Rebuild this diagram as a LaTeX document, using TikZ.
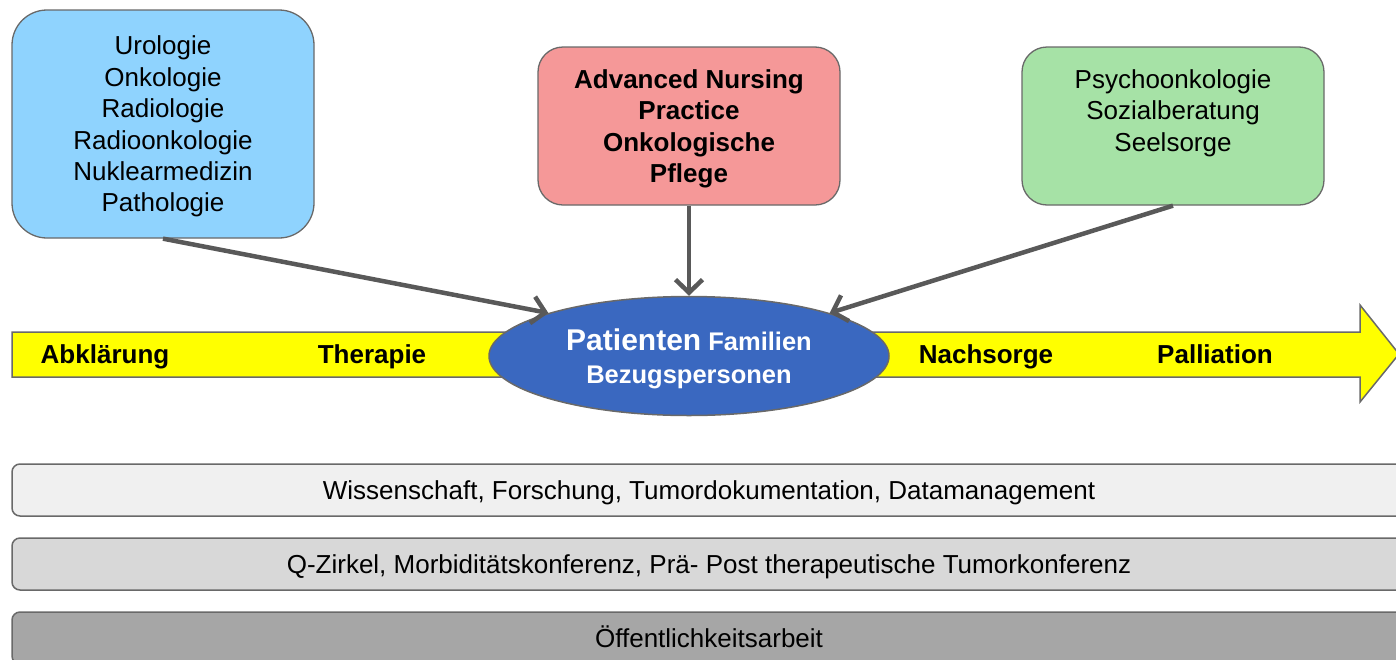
\documentclass[tikz,border=0pt]{standalone}
\usepackage{fontspec}
\setmainfont{Liberation Sans}
\usetikzlibrary{arrows.meta,shapes.geometric}
\definecolor{boxblue}{RGB}{143,211,254}
\definecolor{boxred}{RGB}{245,152,152}
\definecolor{boxgreen}{RGB}{166,226,166}
\definecolor{ellblue}{RGB}{58,104,192}
\definecolor{linegray}{RGB}{89,89,89}
\definecolor{edgegray}{RGB}{105,105,105}
\definecolor{barone}{RGB}{240,240,240}
\definecolor{bartwo}{RGB}{216,216,216}
\definecolor{barthree}{RGB}{166,166,166}
\definecolor{arrowyellow}{RGB}{255,255,0}
\begin{document}
\begin{tikzpicture}[x=1pt,y=-1pt,
  topbox/.style={draw=edgegray, line width=1.3pt, rounded corners=25pt,
    minimum width=302pt, minimum height=158pt, inner sep=0pt, align=center,
    text depth=0pt, font=\fontsize{26}{31.4}\selectfont},
  barbox/.style={draw=edgegray, line width=1.5pt, rounded corners=8pt,
    minimum width=1394pt, minimum height=52pt, inner sep=0pt,
    text height=20pt, text depth=2pt, font=\fontsize{26}{30}\selectfont},
  phase/.style={font=\fontsize{26}{30}\bfseries\selectfont, inner sep=0pt, anchor=base},
  conn/.style={draw=linegray, line width=4.5pt,
    -{Straight Barb[length=13pt,width=27pt,line width=4.5pt]}}
]
\useasboundingbox (0,0) rectangle (1396,659);

% top boxes
\node[topbox, fill=boxblue, rounded corners=35pt, minimum height=228pt] (blue) at (163,124)
  {Urologie\\Onkologie\\Radiologie\\Radioonkologie\\Nuklearmedizin\\Pathologie};
\node[topbox, fill=boxred, font=\fontsize{26}{31.4}\bfseries\selectfont] (red) at (689,126)
  {Advanced Nursing\\Practice\\Onkologische\\Pflege};
\node[topbox, fill=boxgreen] (green) at (1173,126)
  {Psychoonkologie\\Sozialberatung\\Seelsorge\\\mbox{}};

% yellow timeline arrow
\draw[draw=edgegray, line width=1.5pt, fill=arrowyellow]
  (12,332) -- (1360,332) -- (1360,305) -- (1399,354) -- (1360,402)
  -- (1360,377) -- (12,377) -- cycle;
\node[phase] (abkl) at (105,363) {Abklärung};
\node[phase] (ther) at (372,363) {Therapie};
\node[phase] (nach) at (986,363) {Nachsorge};
\node[phase] (pall) at (1215,363) {Palliation};

% central ellipse
\node[ellipse, draw=edgegray, line width=1.5pt, fill=ellblue, text=white,
  minimum width=400pt, minimum height=119pt, inner sep=0pt, align=center,
  text depth=0pt, font=\fontsize{25.5}{33}\bfseries\selectfont] (ell) at (689,356)
  {{\fontsize{30}{33}\selectfont Patienten} Familien\\Bezugspersonen};

% connectors
\draw[conn] (blue.south) -- (ell.163);
\draw[conn] (red.south) -- (ell.north);
\draw[conn] (green.south) -- (ell.17);

% bottom bars
\node[barbox, fill=barone] (wiss) at (709,490)
  {Wissenschaft, Forschung, Tumordokumentation, Datamanagement};
\node[barbox, fill=bartwo] (qz) at (709,564)
  {Q-Zirkel, Morbiditätskonferenz, Prä- Post therapeutische Tumorkonferenz};
\node[barbox, fill=barthree] (oeff) at (709,638)
  {Öffentlichkeitsarbeit};
\end{tikzpicture}
\end{document}
